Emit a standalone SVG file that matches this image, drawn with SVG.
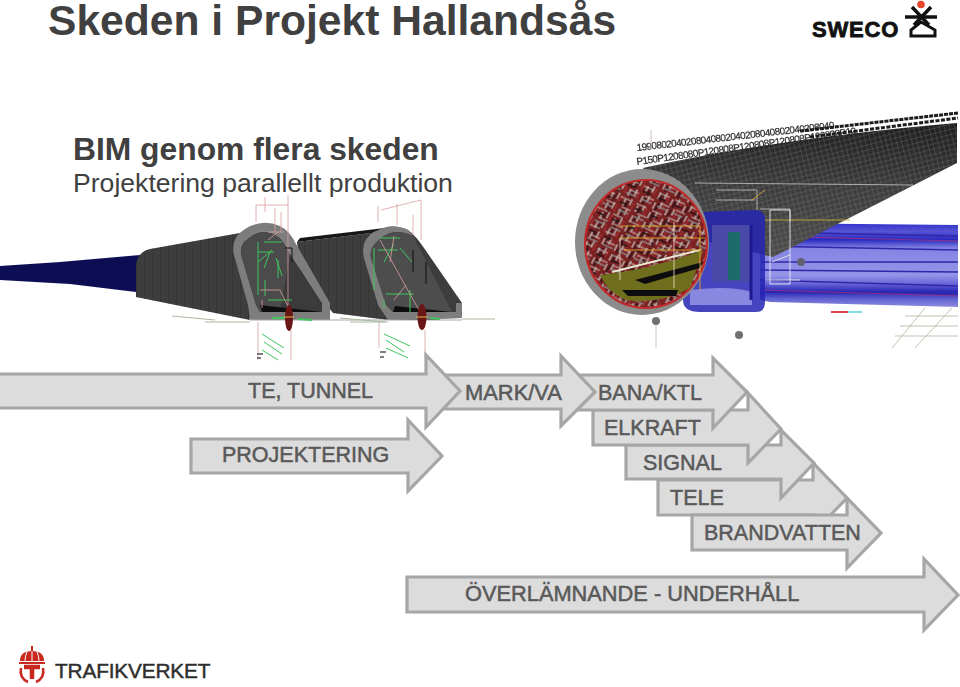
<svg xmlns="http://www.w3.org/2000/svg" width="960" height="687" viewBox="0 0 960 687">
<defs>
<style>
.ar{fill:#dcdcdc;stroke:#a6a6a6;stroke-width:3.2;stroke-linejoin:miter}
.lb{font-family:"Liberation Sans",Arial,sans-serif;font-size:21.5px;fill:#595959;stroke:#595959;stroke-width:.5}
.g{stroke:#3fc45c;stroke-width:1;fill:none}
.p{stroke:#d8a0a0;stroke-width:.8;fill:none}
</style>
<filter id="b" x="-5%" y="-5%" width="110%" height="110%"><feGaussianBlur stdDeviation=".5"/></filter>
<linearGradient id="blue" x1="0" y1="0" x2="0" y2="1">
<stop offset="0" stop-color="#3030cc"/><stop offset=".1" stop-color="#5654d4"/><stop offset=".2" stop-color="#2a2ac0"/><stop offset=".3" stop-color="#8484e4"/><stop offset=".62" stop-color="#9494e8"/><stop offset=".72" stop-color="#6a68d8"/><stop offset=".82" stop-color="#2626b4"/><stop offset=".9" stop-color="#6060d0"/><stop offset="1" stop-color="#8c8ce0"/>
</linearGradient>
<linearGradient id="cone" x1="0" y1="0" x2="0" y2="1">
<stop offset="0" stop-color="#1f1f1f"/><stop offset=".45" stop-color="#3c3c3c"/><stop offset="1" stop-color="#4e4e4e"/>
</linearGradient>
<pattern id="mesh" width="5" height="5" patternUnits="userSpaceOnUse" patternTransform="rotate(-14)">
<path d="M0 0H5M0 0V5" stroke="#868686" stroke-width=".5" fill="none"/>
</pattern>
<pattern id="rib" width="8" height="9" patternUnits="userSpaceOnUse">
<path d="M0 0V9" stroke="#2c2c2c" stroke-width="1"/><path d="M0 0H8" stroke="#4c4c4c" stroke-width=".4"/>
</pattern>
<pattern id="red" width="11" height="14" patternUnits="userSpaceOnUse" patternTransform="rotate(-62)">
<rect width="11" height="14" fill="#7a2024"/>
<path d="M1 2H8M4 8H11" stroke="#b8b0a8" stroke-width="1.400"/><path d="M0 5H9" stroke="#2a1618" stroke-width="1.400"/><path d="M2 11H10" stroke="#a83030" stroke-width="1.200"/>
</pattern>
<pattern id="red2" width="17" height="19" patternUnits="userSpaceOnUse" patternTransform="rotate(24)">
<path d="M1 3H12M6 12H16" stroke="#c8c0b8" stroke-width="1"/><path d="M2 8H10" stroke="#201010" stroke-width="1.500"/><path d="M4 16H15" stroke="#8a8a88" stroke-width="1.400"/>
</pattern>
</defs>
<rect width="960" height="687" fill="#fff"/>

<text x="48" y="35" font-family="Liberation Sans,Arial,sans-serif" font-weight="700" font-size="42.600" fill="#404040">Skeden i Projekt Hallandsås</text>
<text x="73" y="160" font-family="Liberation Sans,Arial,sans-serif" font-weight="700" font-size="31.800" fill="#404040">BIM genom flera skeden</text>
<text x="73" y="192" font-family="Liberation Sans,Arial,sans-serif" font-size="26.600" fill="#404040">Projektering parallellt produktion</text>

<g id="sweco-logo">
<text x="812" y="37" font-family="Liberation Sans,Arial,sans-serif" font-weight="700" font-size="22" letter-spacing=".8" fill="#111" stroke="#111" stroke-width=".8">SWECO</text>
<circle cx="921" cy="4.500" r="3.800" fill="#e8452c"/>
<path d="M905 17H937" stroke="#111" stroke-width="3.500" fill="none"/>
<path d="M912 7L929 25M931 7L914 25" stroke="#111" stroke-width="3.500" fill="none"/>
<path d="M921 22L911 30V36H935V30Z" stroke="#111" stroke-width="3" fill="none"/>
</g>

<g id="tunnel-left" filter="url(#b)">
<path d="M0 266L60 262L140 255L136 292L70 284L0 280Z" fill="#0a0f52"/>
<path d="M136 264Q138 252 150 249L240 233L300 320H250L136 297Z" fill="#3c3c3c"/>
<path d="M136 264Q138 252 150 249L240 233L300 320H250L136 297Z" fill="url(#rib)"/>
<path d="M297 242L372 233L440 320H388L333 313L300 270Z" fill="#3c3c3c"/>
<path d="M297 242L372 233L440 320H388L333 313L300 270Z" fill="url(#rib)"/>
<path d="M297 242L372 233L385 228L300 238Z" fill="#151515"/>
<path fill-rule="evenodd" fill="#7d7d7d" d="M248 305L234 255Q230 238 245 229Q262 218 280 226Q290 231 296 244L330 303V320H250ZM256 305L260 312H322V303L290 254Q284 240 278 236Q262 226 248 238Q238 246 242 258Z"/>
<path d="M256 305L242 258Q238 246 248 238Q262 226 278 236Q284 240 290 254L322 303V312H260Z" fill="#4c4c4c"/>
<path d="M290 254L322 303V312H280Z" fill="#3a3a3a"/>
<path d="M260 305L322 312H262Z" fill="#101010"/>
<path d="M378 305L364 258Q360 240 374 232Q392 222 408 230Q416 236 424 248L462 303V318L388 320Z" fill="#3e3e3e"/>
<path fill-rule="evenodd" fill="#7d7d7d" d="M378 305L364 258Q360 240 374 232Q392 222 408 230L413 236Q396 228 384 236Q368 246 371 258L386 305L393 312H456V303H462V318L388 320Z"/>
<path d="M386 305L371 258Q368 246 384 236Q396 228 413 236L452 312H393Z" fill="#4e4e4e"/>
<path d="M395 306L452 312H393Z" fill="#101010"/>
<path d="M250 318V320H462" stroke="#aaa" stroke-width="1" fill="none"/>
<g class="p"><path d="M265 197V212M288 195V316M256 222V205H288M275 208V232M281 212V232M258 322V360M291 330V360"/><path d="M378 206V222M421 200V240M381 210L421 200M397 204V225M413 215V235M379 322V348M425 330V358"/></g>
<g class="g"><path d="M258 242V295M264 242H282M258 252H274M258 262L272 250M264 268L270 252M276 258L282 276M265 280V296M268 300H292M278 260V278"/><path d="M374 248V290M380 238H400M378 250H398M384 262L394 244M400 248L412 262M386 294H414M384 300V308M410 290V312"/></g>
<g class="p"><path d="M268 240L278 232M268 232H284M260 290L280 290M280 290L292 315M262 300V308M380 240L420 312M394 236L390 262M394 300L406 285"/></g>
<path d="M285 248H292V262M413 250V272M426 262V284" stroke="#111" fill="none"/>
<g class="g"><path d="M262 334L284 348M264 342L282 354M262 350L278 360M384 334L410 346M386 340L404 352M386 348L408 358"/></g>
<path d="M172 316L215 320M205 322H250M340 318L385 322M350 322H388M462 319H495" stroke="#a8b8a0" stroke-width="1" fill="none"/>
<path d="M298 319L312 320M430 318L440 319M272 318H290" stroke="#3fc45c" stroke-width="2" fill="none"/>
<ellipse cx="289" cy="318" rx="4" ry="13" fill="#6a1414"/>
<ellipse cx="422" cy="317" rx="4.500" ry="13" fill="#6a1414"/>
<path d="M284 317H294M416 317H428" stroke="#d8c050" stroke-width="1"/>
<path d="M257 354H263M257 358H261M380 352H386M380 357H384" stroke="#555" stroke-width="1.500"/>
</g>

<g id="tunnel-right" filter="url(#b)">
<path d="M760 223L958 225V307L770 302L760 300Z" fill="url(#blue)"/>
<path d="M760 232L958 236M760 246L958 250M762 262L958 262M760 270L958 272M760 280L958 286M760 292L958 294" stroke="#3028a8" stroke-width="1.400" fill="none"/>
<path d="M760 236L958 241M760 290L958 296" stroke="#a03080" stroke-width=".8" fill="none"/>
<path d="M643 168Q780 138 957 123V163L773 257L700 240Z" fill="url(#cone)"/>
<path d="M643 168Q780 138 957 123V163L773 257L700 240Z" fill="url(#mesh)"/>
<path d="M695 183L913 185M716 190H757V210M716 200H755M760 209H790V222" stroke="#c8c8c8" stroke-width=".8" fill="none"/>
<path d="M765 220H850M752 200L765 190" stroke="#c8a838" stroke-width=".9" fill="none"/>
<path d="M700 212Q683 210 683 226V300Q683 312 700 312H756Q765 312 765 302V220Q765 210 755 210Z" fill="#2424b4" fill-opacity=".85"/>
<path d="M712 225H750V282H712Z" fill="#4848a8"/>
<path d="M690 290Q730 285 752 292V305H690Z" fill="#8888e0"/>
<path d="M728 232H740V280H728Z" fill="#1f6a6a"/>
<path d="M751 225V300" stroke="#1a1a90" stroke-width="3"/>
<text transform="translate(637,151) rotate(-6.500)" font-family="Liberation Sans,Arial,sans-serif" font-size="10" letter-spacing="-.6" fill="#2a2a2a" stroke="#2a2a2a" stroke-width=".2">1990802040208040802040208040802040208040</text>
<text transform="translate(637,165) rotate(-8)" font-family="Liberation Sans,Arial,sans-serif" font-size="10" letter-spacing="-.6" fill="#2a2a2a" stroke="#2a2a2a" stroke-width=".2">P150P1208080P120808P120808P120808P120808P12</text>
<path d="M800 131L958 113" stroke="#1a1a1a" stroke-width="3" stroke-dasharray="4 1" fill="none"/>
<path d="M810 137L958 118" stroke="#1a1a1a" stroke-width="3" stroke-dasharray="4 1.500" fill="none"/>
<ellipse cx="642" cy="242" rx="67" ry="73" fill="#8c8c8c"/>
<ellipse cx="646" cy="244" rx="61" ry="64" fill="url(#red)" stroke="#c02a2a" stroke-width="2"/>
<ellipse cx="646" cy="244" rx="60" ry="63" fill="url(#red2)"/>
<path d="M600 275Q650 270 703 250L690 288Q660 305 625 300Q608 292 600 275Z" fill="#6e6e1c"/>
<path d="M622 290L678 290L676 296H628Z" fill="#0a0a0a"/>
<path d="M635 280L703 262L700 268L645 284Z" fill="#111"/>
<path d="M612 272L700 250" stroke="#e8e8d0" stroke-width="2" fill="none"/>
<path d="M620 238H705M624 250H700M620 226H700V290" stroke="#e0a830" stroke-width=".9" fill="none"/>
<path d="M620 238V280M674 222V288" stroke="#f0e0d0" stroke-width=".8" fill="none"/>
<path d="M770 210H790V284H770ZM772 262L790 255M765 280H800" stroke="#e8e8f0" stroke-width=".9" fill="none"/>
<circle cx="656" cy="321" r="4" fill="#707070"/>
<circle cx="739" cy="335" r="4" fill="#707070"/>
<circle cx="801" cy="262" r="4" fill="#606070"/>
<path d="M651 130V150M656 325V348" stroke="#d0c0c0" stroke-width="1" fill="none"/>
<path d="M831 312H848" stroke="#e04050" stroke-width="2"/><path d="M848 312H862" stroke="#80e0e8" stroke-width="2"/>
<path d="M892 348L925 308M915 348L952 308M905 316H958M900 326H958M895 336H958" stroke="#b8b0a0" stroke-width=".8" fill="none"/>
</g>

<g id="tele"><path class="ar" d="M658 480H813V463L847 498L813 533V515H658Z"/><text class="lb" x="670" y="505">TELE</text></g>
<g id="brandvatten"><path class="ar" d="M692 515H847V498L881 533L847 568V550H692Z"/><text class="lb" x="704" y="540">BRANDVATTEN</text></g>
<g id="signal"><path class="ar" d="M626 445H781V430L814 463L781 498V479H626Z"/><text class="lb" x="643" y="470">SIGNAL</text></g>
<g id="elkraft"><path class="ar" d="M593 410H748V393L781 429L748 463V445H593Z"/><text class="lb" x="604" y="435">ELKRAFT</text></g>
<g id="bana"><path class="ar" d="M575 375H713V358L747 392L713 428V410H575Z"/><text class="lb" x="598" y="400">BANA/KTL</text></g>
<g id="mark"><path class="ar" d="M440 375H561V356L595 392L561 426V409H440Z"/><text class="lb" x="465" y="400" style="font-size:21.900px">MARK/VA</text></g>
<g id="tunnel"><path class="ar" d="M-4 374H426V355L460 391L426 427V408H-4Z"/><text class="lb" x="248" y="398">TE, TUNNEL</text></g>
<g id="projektering"><path class="ar" d="M191 439H408V420L442 456L408 491V473H191Z"/><text class="lb" x="222" y="462">PROJEKTERING</text></g>
<g id="overlamnande"><path class="ar" d="M407 577H924V559L958 595L924 630V612H407Z"/><text class="lb" x="465" y="601" style="font-size:21.800px">ÖVERLÄMNANDE - UNDERHÅLL</text></g>

<g id="trafikverket-logo">
<path d="M20 661Q20 651 32 651Q44 651 44 661Z" fill="#c8281e"/>
<path d="M27 652Q25 656 25 661M37 652Q39 656 39 661M32 651V661" stroke="#fff" stroke-width="1" fill="none"/>
<path d="M32 646V651M19 663H45" stroke="#c8281e" stroke-width="2" fill="none"/>
<path d="M24 667H40M32 667V679" stroke="#c8281e" stroke-width="4.500" fill="none"/>
<path d="M21 668Q19 678 28 682M43 668Q45 678 36 682" stroke="#c8281e" stroke-width="2.500" fill="none"/>
<text x="55" y="678" font-family="Liberation Sans,Arial,sans-serif" font-size="20.800" letter-spacing="-.15" fill="#2e2e2e" stroke="#2e2e2e" stroke-width=".45">TRAFIKVERKET</text>
</g>
</svg>
